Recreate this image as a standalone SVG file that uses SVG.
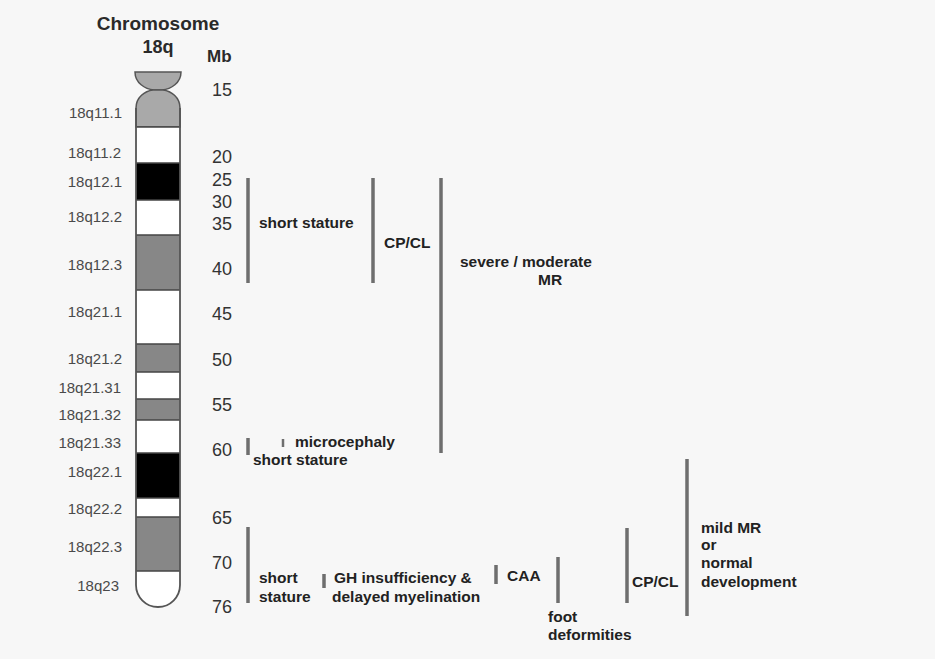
<svg xmlns="http://www.w3.org/2000/svg" width="935" height="659" viewBox="0 0 935 659">
<style>
.bg{fill:#f7f7f7}
.title{font-family:"Liberation Sans",Arial,sans-serif;font-weight:bold;fill:#2a2a2a}
.band{font-family:"Liberation Sans",Arial,sans-serif;font-size:15px;fill:#4a4a4a;text-anchor:end}
.mb{font-family:"Liberation Sans",Arial,sans-serif;font-size:18px;fill:#333}
.lbl{font-family:"Liberation Sans",Arial,sans-serif;font-size:15.5px;font-weight:bold;fill:#222}
.bar{stroke:#6e6e6e;stroke-width:3.5;fill:none}
.bar2{stroke:#6e6e6e;stroke-width:2.5;fill:none}
.sep{stroke:#444;stroke-width:1.5}
.grey{fill:#878787}
.blk{fill:#000}
.wht{fill:#fff}
.cen{fill:#a9a9a9;stroke:#555;stroke-width:1.5}
.outl{fill:none;stroke:#555;stroke-width:1.8}
</style>
<rect class="bg" x="0" y="0" width="935" height="659"/>

<g id="title">
<text class="title" x="158" y="30" font-size="19" text-anchor="middle">Chromosome</text>
<text class="title" x="158" y="53" font-size="18" text-anchor="middle">18q</text>
<text class="title" x="207" y="62" font-size="17">Mb</text>
</g>

<g id="chromosome">
<path class="cen" d="M135,72 H181 C181,83 171,89 162,90 H154 C145,89 135,83 135,72 Z"/>
<path class="cen" d="M136,127 V108 C136,97 145,91 153,90 H163 C171,91 180,97 180,108 V127 Z"/>
<rect class="wht" x="136" y="127" width="44" height="36"/>
<rect class="blk" x="136" y="163" width="44" height="37"/>
<rect class="wht" x="136" y="200" width="44" height="35"/>
<rect class="grey" x="136" y="235" width="44" height="55"/>
<rect class="wht" x="136" y="290" width="44" height="54"/>
<rect class="grey" x="136" y="344" width="44" height="28"/>
<rect class="wht" x="136" y="372" width="44" height="27"/>
<rect class="grey" x="136" y="399" width="44" height="21"/>
<rect class="wht" x="136" y="420" width="44" height="33"/>
<rect class="blk" x="136" y="453" width="44" height="45"/>
<rect class="wht" x="136" y="498" width="44" height="19"/>
<rect class="grey" x="136" y="517" width="44" height="54"/>
<path class="wht" d="M136,571 V585 A22,22 0 0 0 180,585 V571 Z"/>
<g class="sep">
<line x1="136" y1="127" x2="180" y2="127"/>
<line x1="136" y1="163" x2="180" y2="163"/>
<line x1="136" y1="200" x2="180" y2="200"/>
<line x1="136" y1="235" x2="180" y2="235"/>
<line x1="136" y1="290" x2="180" y2="290"/>
<line x1="136" y1="344" x2="180" y2="344"/>
<line x1="136" y1="372" x2="180" y2="372"/>
<line x1="136" y1="399" x2="180" y2="399"/>
<line x1="136" y1="420" x2="180" y2="420"/>
<line x1="136" y1="453" x2="180" y2="453"/>
<line x1="136" y1="498" x2="180" y2="498"/>
<line x1="136" y1="517" x2="180" y2="517"/>
<line x1="136" y1="571" x2="180" y2="571"/>
</g>
<path class="outl" d="M136,108 V585 A22,22 0 0 0 180,585 V108"/>
</g>

<g id="band-labels">
<text class="band" x="122" y="118">18q11.1</text>
<text class="band" x="121" y="158">18q11.2</text>
<text class="band" x="122" y="187">18q12.1</text>
<text class="band" x="122" y="222">18q12.2</text>
<text class="band" x="122" y="270">18q12.3</text>
<text class="band" x="122" y="317">18q21.1</text>
<text class="band" x="122" y="364">18q21.2</text>
<text class="band" x="121" y="393">18q21.31</text>
<text class="band" x="121" y="420">18q21.32</text>
<text class="band" x="121" y="448">18q21.33</text>
<text class="band" x="122" y="477">18q22.1</text>
<text class="band" x="122" y="514">18q22.2</text>
<text class="band" x="122" y="552">18q22.3</text>
<text class="band" x="119" y="591">18q23</text>
</g>

<g id="mb-scale">
<text class="mb" x="212" y="96">15</text>
<text class="mb" x="212" y="163">20</text>
<text class="mb" x="212" y="186">25</text>
<text class="mb" x="212" y="208">30</text>
<text class="mb" x="212" y="230">35</text>
<text class="mb" x="212" y="275">40</text>
<text class="mb" x="212" y="320">45</text>
<text class="mb" x="212" y="366">50</text>
<text class="mb" x="212" y="411">55</text>
<text class="mb" x="212" y="456">60</text>
<text class="mb" x="212" y="524">65</text>
<text class="mb" x="212" y="569">70</text>
<text class="mb" x="212" y="613">76</text>
</g>

<g id="connectors">
<line class="bar" x1="248" y1="178" x2="248" y2="283"/>
<line class="bar" x1="373" y1="178" x2="373" y2="283"/>
<line class="bar" x1="441" y1="178" x2="441" y2="453"/>
<line class="bar" x1="248" y1="438" x2="248" y2="455"/>
<line class="bar2" x1="283" y1="439" x2="283" y2="447"/>
<line class="bar" x1="248" y1="527" x2="248" y2="603"/>
<line class="bar" x1="324" y1="574" x2="324" y2="588"/>
<line class="bar" x1="496" y1="565" x2="496" y2="584"/>
<line class="bar" x1="558" y1="557" x2="558" y2="603"/>
<line class="bar" x1="627" y1="528" x2="627" y2="603"/>
<line class="bar" x1="687" y1="459" x2="687" y2="616"/>
</g>

<g id="feature-labels">
<text class="lbl" x="259" y="228">short stature</text>
<text class="lbl" x="384" y="248">CP/CL</text>
<text class="lbl" x="460" y="267">severe / moderate</text>
<text class="lbl" x="538" y="285">MR</text>
<text class="lbl" x="295" y="447">microcephaly</text>
<text class="lbl" x="253" y="465">short stature</text>
<text class="lbl" x="259" y="583">short</text>
<text class="lbl" x="259" y="602">stature</text>
<text class="lbl" x="334" y="583">GH insufficiency &amp;</text>
<text class="lbl" x="332" y="602">delayed myelination</text>
<text class="lbl" x="507" y="581">CAA</text>
<text class="lbl" x="548" y="622">foot</text>
<text class="lbl" x="548" y="640">deformities</text>
<text class="lbl" x="632" y="587">CP/CL</text>
<text class="lbl" x="701" y="533">mild MR</text>
<text class="lbl" x="701" y="550">or</text>
<text class="lbl" x="701" y="568">normal</text>
<text class="lbl" x="701" y="587">development</text>
</g>
</svg>
